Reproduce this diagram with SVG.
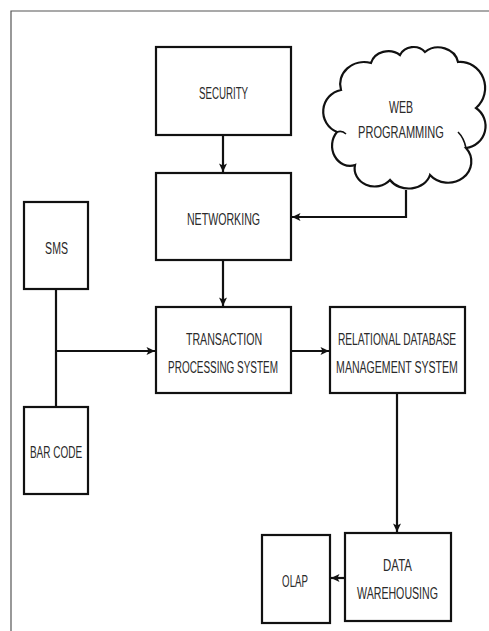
<svg xmlns="http://www.w3.org/2000/svg" width="489" height="631" viewBox="0 0 489 631">
<defs>
<style>
.box{fill:#fff;stroke:#111;stroke-width:2.2}
.frame{fill:none;stroke:#555;stroke-width:1.2}
.con{fill:none;stroke:#111;stroke-width:2.2}
.lbl{font-family:"Liberation Sans",Arial,sans-serif;font-size:17px;fill:#2a2a2a;text-anchor:middle}
</style>
<marker id="arr" viewBox="0 0 10 10" refX="9.5" refY="5" markerWidth="10" markerHeight="10" markerUnits="userSpaceOnUse" orient="auto">
<path d="M1,1 L9.5,5 L1,9 L3,5 Z" fill="#111"/>
</marker>
</defs>
<rect width="489" height="631" fill="#fff"/>
<path class="frame" d="M11,631 L11,11 L489,11"/>

<g id="connectors">
<path class="con" d="M223,135 L223,172" marker-end="url(#arr)"/>
<path class="con" d="M406,190 L406,217 L292,217" marker-end="url(#arr)"/>
<path class="con" d="M223,260 L223,306" marker-end="url(#arr)"/>
<path class="con" d="M56,289 L56,407"/>
<path class="con" d="M56,351 L155,351" marker-end="url(#arr)"/>
<path class="con" d="M291,351 L329,351" marker-end="url(#arr)"/>
<path class="con" d="M397,393 L397,532" marker-end="url(#arr)"/>
<path class="con" d="M345,578 L331,578" marker-end="url(#arr)"/>
</g>

<g id="security">
<rect class="box" x="156" y="47" width="135" height="88"/>
<text class="lbl" transform="translate(223.5,99) scale(0.6,1)" textLength="82" lengthAdjust="spacingAndGlyphs">SECURITY</text>
</g>

<g id="web-programming">
<path class="box" d="M337,132 A22,22 0 0 1 341,90 A24,22 0 0 1 371,63 A18,16 0 0 1 400,55 A15,14 0 0 1 425,52 A20,18 0 0 1 458,62 A25,26 0 0 1 476,108 A22,22 0 0 1 466,148 A22,20 0 0 1 430,175 A22,18 0 0 1 390,180 A20,18 0 0 1 355,165 A18,20 0 0 1 337,132 Z"/>
<path d="M337,132 Q342,130 346,134 M466,148 Q464,138 458,132" fill="none" stroke="#111" stroke-width="1.6"/>
<text class="lbl" transform="translate(401,113) scale(0.6,1)" textLength="40" lengthAdjust="spacingAndGlyphs">WEB</text>
<text class="lbl" transform="translate(401,138) scale(0.6,1)" textLength="143" lengthAdjust="spacingAndGlyphs">PROGRAMMING</text>
</g>

<g id="networking">
<rect class="box" x="156" y="173" width="135" height="87"/>
<text class="lbl" transform="translate(223.5,225) scale(0.6,1)" textLength="122" lengthAdjust="spacingAndGlyphs">NETWORKING</text>
</g>

<g id="sms">
<rect class="box" x="24" y="202" width="64" height="87"/>
<text class="lbl" transform="translate(56.5,254) scale(0.6,1)" textLength="38" lengthAdjust="spacingAndGlyphs">SMS</text>
</g>

<g id="tps">
<rect class="box" x="156" y="307" width="135" height="86"/>
<text class="lbl" transform="translate(224,345) scale(0.6,1)" textLength="127" lengthAdjust="spacingAndGlyphs">TRANSACTION</text>
<text class="lbl" transform="translate(223,373) scale(0.6,1)" textLength="183" lengthAdjust="spacingAndGlyphs">PROCESSING SYSTEM</text>
</g>

<g id="rdbms">
<rect class="box" x="330" y="307" width="135" height="86"/>
<text class="lbl" transform="translate(397,345) scale(0.6,1)" textLength="197" lengthAdjust="spacingAndGlyphs">RELATIONAL DATABASE</text>
<text class="lbl" transform="translate(397,373) scale(0.6,1)" textLength="203" lengthAdjust="spacingAndGlyphs">MANAGEMENT SYSTEM</text>
</g>

<g id="bar-code">
<rect class="box" x="24" y="407" width="64" height="87"/>
<text class="lbl" transform="translate(56,458) scale(0.6,1)" textLength="87" lengthAdjust="spacingAndGlyphs">BAR CODE</text>
</g>

<g id="data-warehousing">
<rect class="box" x="345" y="533" width="106" height="88"/>
<text class="lbl" transform="translate(397.5,571) scale(0.6,1)" textLength="48" lengthAdjust="spacingAndGlyphs">DATA</text>
<text class="lbl" transform="translate(397.5,599) scale(0.6,1)" textLength="135" lengthAdjust="spacingAndGlyphs">WAREHOUSING</text>
</g>

<g id="olap">
<rect class="box" x="262" y="535" width="68" height="88"/>
<text class="lbl" transform="translate(295,587) scale(0.6,1)" textLength="43" lengthAdjust="spacingAndGlyphs">OLAP</text>
</g>
</svg>
